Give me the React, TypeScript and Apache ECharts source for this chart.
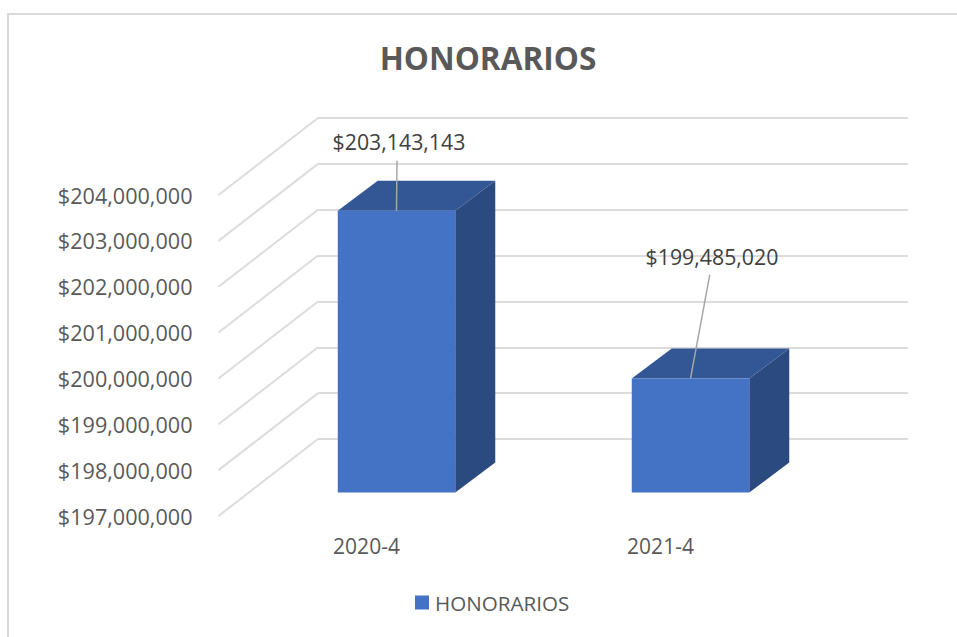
import React, { useEffect, useRef } from "react";
import * as echarts from "echarts";

const categories = ["2020-4", "2021-4"];
const seriesName = "HONORARIOS";
const honorarios = [203143143, 199485020];
const axisMin = 197000000;
const axisMax = 204000000;
const axisStep = 1000000;
const tickValues = [197000000, 198000000, 199000000, 200000000, 201000000, 202000000, 203000000, 204000000];

const FONT = "'Open Sans', 'Noto Sans', sans-serif";
const money = (v: number) => "$" + Math.round(v).toLocaleString("en-US");

export default function App() {
  const ref = useRef<HTMLDivElement>(null);
  useEffect(() => {
    const chart = echarts.init(ref.current!, null, { renderer: "svg" });
    const wallDx = 99.5, wallDy = -77;
    const barOffX = 30, barOffY = -23.5, depthX = 40, depthY = -30, barW = 117.5;
    const labelPlacement = [
      { lx: 2.5, ly: -69, startX: 0.5, startY: -50 },
      { lx: 21.5, ly: -122, startX: 19.3, startY: -104 },
    ];
    chart.setOption({
      animation: false,
      backgroundColor: "#ffffff",
      title: {
        text: seriesName,
        left: 483,
        top: 36,
        textAlign: "center",
        textStyle: { color: "#595959", fontSize: 31.6, fontWeight: "bold", fontFamily: FONT },
      },
      legend: {
        left: 410,
        top: 587,
        icon: "rect",
        itemWidth: 14,
        itemHeight: 14,
        itemGap: 6,
        data: [seriesName],
        textStyle: { color: "#595959", fontSize: 20.6, fontFamily: FONT, padding: [0, 0, 0, 1] },
      },
      grid: [
        { left: 219.5, width: 588, top: 195, height: 321 },
        { left: 318, right: 49, top: 118, height: 321 },
      ],
      xAxis: [
        {
          type: "category",
          gridIndex: 0,
          data: categories,
          axisLine: { show: false },
          axisTick: { show: false },
          axisLabel: { color: "#595959", fontSize: 21, fontFamily: FONT, margin: 19 },
        },
        { type: "category", gridIndex: 1, data: categories, show: false },
      ],
      yAxis: [
        {
          type: "value",
          gridIndex: 0,
          min: axisMin,
          max: axisMax,
          interval: axisStep,
          splitLine: { show: false },
          axisLine: { show: false },
          axisTick: { show: false },
          axisLabel: { color: "#595959", fontSize: 21.6, fontFamily: FONT, margin: 27, formatter: money },
        },
        {
          type: "value",
          gridIndex: 1,
          min: axisMin,
          max: axisMax,
          interval: axisStep,
          axisLine: { show: false },
          axisTick: { show: false },
          axisLabel: { show: false },
          splitLine: { show: true, lineStyle: { color: "#dcdcdc", width: 2 } },
        },
      ],
      graphic: [
        {
          type: "rect",
          silent: true,
          shape: { x: 8, y: 14, width: 980, height: 660 },
          style: { fill: "none", stroke: "#d9d9d9", lineWidth: 2 },
          z: -1,
        },
      ],
      series: [
        {
          type: "custom",
          name: "walls",
          xAxisIndex: 0,
          yAxisIndex: 0,
          silent: true,
          z: 1,
          data: tickValues.map((v) => [0, v]),
          encode: { x: 0, y: 1 },
          renderItem: (_p: any, api: any) => {
            const y = api.coord([0, api.value(1)])[1];
            return {
              type: "line",
              shape: { x1: 218.5, y1: y, x2: 218.5 + wallDx, y2: y + wallDy },
              style: { stroke: "#dcdcdc", lineWidth: 2 },
            };
          },
        },
        {
          type: "custom",
          name: seriesName,
          xAxisIndex: 0,
          yAxisIndex: 0,
          z: 3,
          itemStyle: { color: "#4472c4" },
          data: honorarios.map((v, i) => [i, v]),
          encode: { x: 0, y: 1 },
          renderItem: (p: any, api: any) => {
            const i = api.value(0);
            const val = api.value(1);
            const [cx, yTopAxis] = api.coord([i, val]);
            const yBaseAxis = api.coord([i, axisMin])[1];
            const x0 = cx + barOffX - barW / 2;
            const x1 = x0 + barW;
            const yT = yTopAxis + barOffY;
            const yB = yBaseAxis + barOffY;
            const mid = (x0 + x1) / 2;
            const lp = labelPlacement[p.dataIndex];
            return {
              type: "group",
              children: [
                {
                  type: "polygon",
                  shape: { points: [[x1, yT], [x1 + depthX, yT + depthY], [x1 + depthX, yB + depthY], [x1, yB]] },
                  style: { fill: "#2b4a80" },
                },
                {
                  type: "polygon",
                  shape: { points: [[x0, yT], [x0 + depthX, yT + depthY], [x1 + depthX, yT + depthY], [x1, yT]] },
                  style: { fill: "#335694" },
                },
                {
                  type: "rect",
                  shape: { x: x0, y: yT, width: barW, height: yB - yT },
                  style: { fill: "#4472c4" },
                },
                {
                  type: "line",
                  shape: { x1: mid, y1: yT, x2: mid + lp.startX, y2: yT + lp.startY },
                  style: { stroke: "#a6a6a6", lineWidth: 1.5 },
                },
                {
                  type: "text",
                  style: {
                    x: mid + lp.lx,
                    y: yT + lp.ly,
                    text: money(val),
                    fill: "#404040",
                    fontSize: 21.3,
                    fontFamily: FONT,
                    align: "center",
                    verticalAlign: "middle",
                  },
                },
              ],
            };
          },
        },
      ],
    });
    return () => chart.dispose();
  }, []);
  return (
    <div
      ref={ref}
      style={{ position: "fixed", left: 0, top: 0, width: 957, height: 637, background: "#fff" }}
    />
  );
}
